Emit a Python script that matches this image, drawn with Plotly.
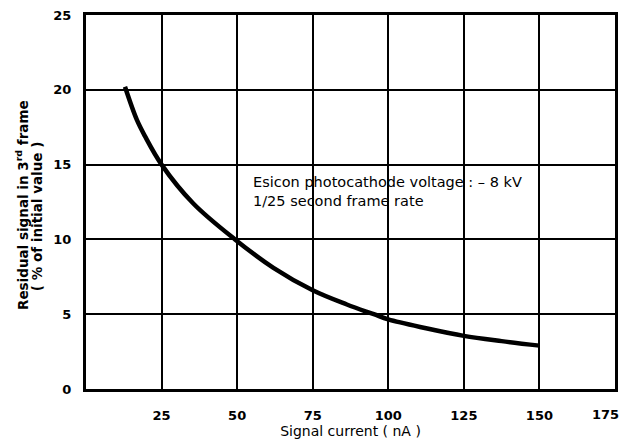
import plotly.graph_objects as go

# Data
signal_current = [12.9, 16.8, 19.5, 25.0, 35.5, 49.3, 62.0, 75.0, 86.3, 95.2, 100.0, 112.5, 125.0, 137.5, 150.0]
residual_pct   = [20.2, 18.0, 16.9, 15.0, 12.4, 10.0, 8.1, 6.6, 5.65, 5.0, 4.65, 4.06, 3.55, 3.2, 2.9]

x_ticks = [25, 50, 75, 100, 125, 150, 175]
x_tick_labels = ["25", "50", "75", "100", "125", "150", "175"]
y_ticks = [0, 5, 10, 15, 20, 25]

FONT = "DejaVu Sans"
TICKFONT = dict(family=FONT, size=13, color="black", weight="bold")

fig = go.Figure()
fig.add_trace(go.Scatter(
    x=signal_current, y=residual_pct, mode="lines",
    line=dict(color="black", width=4.5, shape="spline", smoothing=1.0),
    showlegend=False, hoverinfo="skip",
))

axis_common = dict(
    showgrid=True, gridcolor="black", gridwidth=2,
    showline=True, linecolor="black", linewidth=3, mirror=True,
    zeroline=False, ticks="", automargin=False, ticklabeloverflow="allow",
    tickfont=TICKFONT,
)

# last x label sits at the window edge, so it is drawn as an annotation nudged inward
fig.update_xaxes(range=[0, 175], tickvals=x_ticks, ticktext=x_tick_labels[:-1] + [""],
                 ticklabelstandoff=12,
                 title=dict(text="Signal current ( nA )", font=dict(family=FONT, size=14, color="black"),
                            standoff=3),
                 **axis_common)
fig.update_yaxes(range=[0, 25], tickvals=y_ticks, ticktext=[str(v) for v in y_ticks],
                 ticklabelstandoff=9,
                 **axis_common)

fig.add_annotation(
    x=x_ticks[-1], xref="x", yref="paper", y=-0.0695, text=x_tick_labels[-1],
    showarrow=False, font=TICKFONT, xanchor="center", yanchor="middle", xshift=-10,
)

fig.add_annotation(
    xref="paper", yref="paper", x=-0.121, y=0.492, textangle=-90,
    text="Residual signal in 3<sup>rd</sup> frame",
    showarrow=False, font=dict(family=FONT, size=13.5, color="black", weight="bold"),
    xanchor="center", yanchor="middle",
)
fig.add_annotation(
    xref="paper", yref="paper", x=-0.092, y=0.463, textangle=-90,
    text="( % of initial value )",
    showarrow=False, font=dict(family=FONT, size=13.5, color="black", weight="bold"),
    xanchor="center", yanchor="middle",
)

fig.add_annotation(
    x=54.5, y=13.2, xref="x", yref="y", xanchor="left", yanchor="middle", align="left",
    text="Esicon photocathode voltage : – 8 kV<br>1/25 second frame rate",
    showarrow=False, font=dict(family=FONT, size=14.5, color="black"),
)

# Page body adds an 8px margin, so the figure is sized to fit the 627x441 window
fig.update_layout(
    width=619, height=433,
    margin=dict(l=78, r=12, t=7, b=52),
    paper_bgcolor="white", plot_bgcolor="white",
)

fig.write_html("out.html")
